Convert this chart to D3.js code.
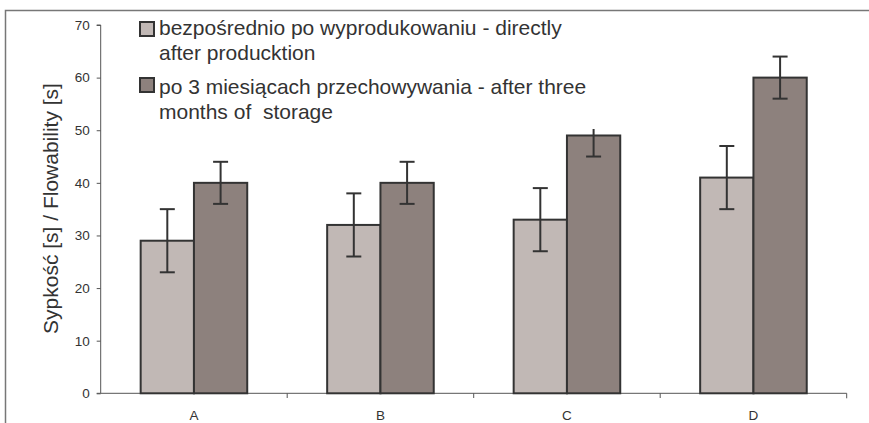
<!DOCTYPE html>
<html><head><meta charset="utf-8">
<script src="https://cdn.jsdelivr.net/npm/d3@7/dist/d3.min.js"></script>
<style>body{margin:0;background:#fff}svg{display:block;font-family:"Liberation Sans",Arial,sans-serif}</style>
</head><body>
<svg id="c" width="869" height="423"></svg>
<script>
const categories = ["A","B","C","D"];
const seriesNames = ["bezpośrednio po wyprodukowaniu - directly|after producktion",
                     "po 3 miesiącach przechowywania - after three|months of  storage"];
const directly = [29, 32, 33, 41];
const directlyErr = [6, 6, 6, 6];
const stored = [40, 40, 49, 60];
const storedErr = [4, 4, 4, 4];
const yTicks = [0,10,20,30,40,50,60,70];
const colors = ["#c1b8b5", "#8d817d"];

const svg = d3.select("#c");
// outer frame
svg.append("path").attr("d","M5.5,423 V10.5 H869").attr("fill","none").attr("stroke","#777").attr("stroke-width",1.5);

const x0 = d3.scaleBand().domain(categories).range([100.7, 846.7]).padding(0);
const x1 = d3.scaleBand().domain([0,1]).range([0, x0.bandwidth()]).paddingInner(0).paddingOuter(0.75);
const y = d3.scaleLinear().domain([0,70]).range([393.3, 25]);

// y axis
const ya = svg.append("g").attr("transform","translate(100.7,0)")
  .call(d3.axisLeft(y).tickValues(yTicks).tickSize(4).tickPadding(7));
ya.attr("font-size",null).attr("font-family",null);
ya.select(".domain").attr("stroke","#555").attr("d","M-4,25H0V393.3H-4");
ya.selectAll(".tick line").attr("stroke","#555");
ya.selectAll("text").style("font-size","13.5px").attr("fill","#333");

// x axis
const xa = svg.append("g").attr("transform","translate(0,393.3)")
  .call(d3.axisBottom(x0).tickSize(0).tickPadding(17));
xa.attr("font-size",null).attr("font-family",null);
xa.select(".domain").attr("stroke","#555").attr("d","M100.7,0H846.7V5");
xa.selectAll("text").style("font-size","13.5px").attr("fill","#333");
// category separator ticks
categories.forEach((c,i)=>{ if(i>0){ const px = x0(c); svg.append("line").attr("x1",px).attr("x2",px).attr("y1",393.3).attr("y2",398).attr("stroke","#555"); }});

const data = [directly, stored], errs = [directlyErr, storedErr];
// bars
[0,1].forEach(s=>{
  svg.append("g").selectAll("rect").data(categories).join("rect")
    .attr("x", c=>x0(c)+x1(s))
    .attr("y", (c,i)=>y(data[s][i]))
    .attr("width", x1.bandwidth())
    .attr("height", (c,i)=>y(0)-y(data[s][i]))
    .attr("fill", colors[s]).attr("stroke","#333").attr("stroke-width",2);
});
// error bars
[0,1].forEach(s=>{
  const g = svg.append("g").attr("stroke","#333").attr("stroke-width",2);
  categories.forEach((c,i)=>{
    const cx = x0(c)+x1(s)+x1.bandwidth()/2;
    const top = y(data[s][i]+errs[s][i]), bot = y(data[s][i]-errs[s][i]);
    g.append("line").attr("x1",cx).attr("x2",cx).attr("y1",top).attr("y2",bot);
    g.append("line").attr("x1",cx-7.5).attr("x2",cx+7.5).attr("y1",top).attr("y2",top);
    g.append("line").attr("x1",cx-7.5).attr("x2",cx+7.5).attr("y1",bot).attr("y2",bot);
  });
});

// legend
const lg = svg.append("g");
lg.append("rect").attr("x",134).attr("y",13).attr("width",480).attr("height",116).attr("fill","#fff");
const itemY = [22, 78];
const baseY = [35, 94];
seriesNames.forEach((name,s)=>{
  lg.append("rect").attr("x",140).attr("y",itemY[s]).attr("width",14).attr("height",14)
    .attr("fill",colors[s]).attr("stroke","#333").attr("stroke-width",2);
  const lines = name.split("|");
  lines.forEach((t,j)=>{
    lg.append("text").attr("x",159).attr("y",baseY[s]+j*24.5).attr("font-size",21).attr("fill","#333")
      .style("white-space","pre").text(t);
  });
});

// y label
svg.append("text").attr("transform","translate(57.5,208.5) rotate(-90)")
  .attr("text-anchor","middle").attr("font-size",21).attr("fill","#333")
  .text("Sypkość [s] / Flowability [s]");
</script>
</body></html>
